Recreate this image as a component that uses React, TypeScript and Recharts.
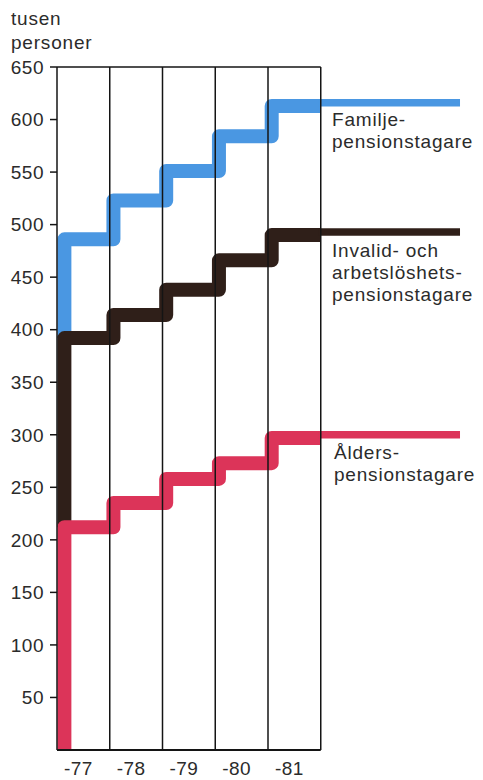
import React from "react";
import { LineChart, Line, XAxis, YAxis, ReferenceLine } from "recharts";

// years (each interval between two vertical lines is one year)
const years = [1977, 1978, 1979, 1980, 1981];
const yearLabels = ["-77", "-78", "-79", "-80", "-81"];

// tusen personer, level for each year
const familje = [486, 523, 551, 584, 613];
const invalid = [392, 414, 438, 466, 490];
const alders = [212, 235, 258, 273, 297];

const yTicks = [50, 100, 150, 200, 250, 300, 350, 400, 450, 500, 550, 600, 650];

const FONT = '"Liberation Sans", Arial, sans-serif';
const TEXT = "#2b2b2b";
const INK = "#141414";

const frameEnd = 1982;
const riseX = years[0] + 0.14;
const stepShift = 0.07;
const leaderEnd = 1984.64;
const leaderLift = 3;

// rise from the series below, then one step just after each year boundary, to the right frame
function staircase(values: number[], from: number) {
  const pts = [
    { x: riseX, y: from },
    { x: riseX, y: values[0] },
  ];
  for (let i = 1; i < values.length; i++) {
    pts.push({ x: years[i] + stepShift, y: values[i] });
  }
  pts.push({ x: frameEnd, y: values[values.length - 1] });
  return pts;
}

// thinner leader out to the label
function leader(values: number[]) {
  const last = values[values.length - 1] + leaderLift;
  return [
    { x: frameEnd - 0.05, y: last },
    { x: leaderEnd, y: last },
  ];
}

const series = [
  { name: "familje", color: "#4a97e2", values: familje, from: invalid[0] },
  { name: "invalid", color: "#2f1f19", values: invalid, from: alders[0] },
  { name: "alders", color: "#dc3459", values: alders, from: 0 },
];

const labelStyle: React.CSSProperties = {
  position: "absolute",
  left: 332,
  fontFamily: FONT,
  fontSize: 19,
  letterSpacing: 0.8,
  lineHeight: "22px",
  color: TEXT,
  whiteSpace: "nowrap",
};

const tickStyle = { fill: TEXT, fontSize: 19, fontFamily: FONT, letterSpacing: 0.5 };

export default function App() {
  return (
    <div style={{ position: "absolute", left: 0, top: 0, width: 483, height: 780, background: "#fff" }}>
      <div style={{ ...labelStyle, left: 11, top: 7, lineHeight: "24px" }}>
        tusen
        <br />
        personer
      </div>
      <LineChart width={483} height={780} margin={{ top: 67, right: 4, left: 0, bottom: 0 }}>
        <XAxis
          dataKey="x"
          type="number"
          domain={[1977, 1985]}
          allowDataOverflow
          ticks={years.map((y) => y + 0.5)}
          tickFormatter={(v: number) => yearLabels[years.indexOf(Math.floor(v))]}
          axisLine={false}
          tickLine={false}
          height={30}
          tickMargin={5.5}
          tick={{ ...tickStyle, dx: -5 }}
        />
        <YAxis
          type="number"
          domain={[0, 650]}
          ticks={yTicks}
          width={57}
          tickSize={7}
          tickMargin={6}
          axisLine={{ stroke: INK, strokeWidth: 1.5 }}
          tickLine={{ stroke: INK, strokeWidth: 1.5 }}
          tick={tickStyle}
        />
        {series.map((s) => (
          <React.Fragment key={s.name}>
            <Line
              data={staircase(s.values, s.from)}
              dataKey="y"
              type="stepAfter"
              stroke={s.color}
              strokeWidth={14}
              strokeLinecap="butt"
              strokeLinejoin="round"
              dot={false}
              activeDot={false}
              isAnimationActive={false}
            />
            <Line
              data={leader(s.values)}
              dataKey="y"
              type="linear"
              stroke={s.color}
              strokeWidth={7.5}
              strokeLinecap="butt"
              dot={false}
              activeDot={false}
              isAnimationActive={false}
            />
          </React.Fragment>
        ))}
        {[1978, 1979, 1980, 1981, frameEnd].map((x) => (
          <ReferenceLine key={x} x={x} stroke={INK} strokeWidth={1.5} />
        ))}
        <ReferenceLine
          segment={[
            { x: 1977, y: 650 },
            { x: frameEnd, y: 650 },
          ]}
          stroke={INK}
          strokeWidth={1.5}
        />
        <ReferenceLine
          segment={[
            { x: 1977, y: 0 },
            { x: frameEnd, y: 0 },
          ]}
          stroke={INK}
          strokeWidth={2}
        />
      </LineChart>
      <div style={{ ...labelStyle, top: 109 }}>
        Familje-
        <br />
        pensionstagare
      </div>
      <div style={{ ...labelStyle, top: 240 }}>
        Invalid- och
        <br />
        arbetslöshets-
        <br />
        pensionstagare
      </div>
      <div style={{ ...labelStyle, left: 334, top: 442 }}>
        Ålders-
        <br />
        pensionstagare
      </div>
    </div>
  );
}
